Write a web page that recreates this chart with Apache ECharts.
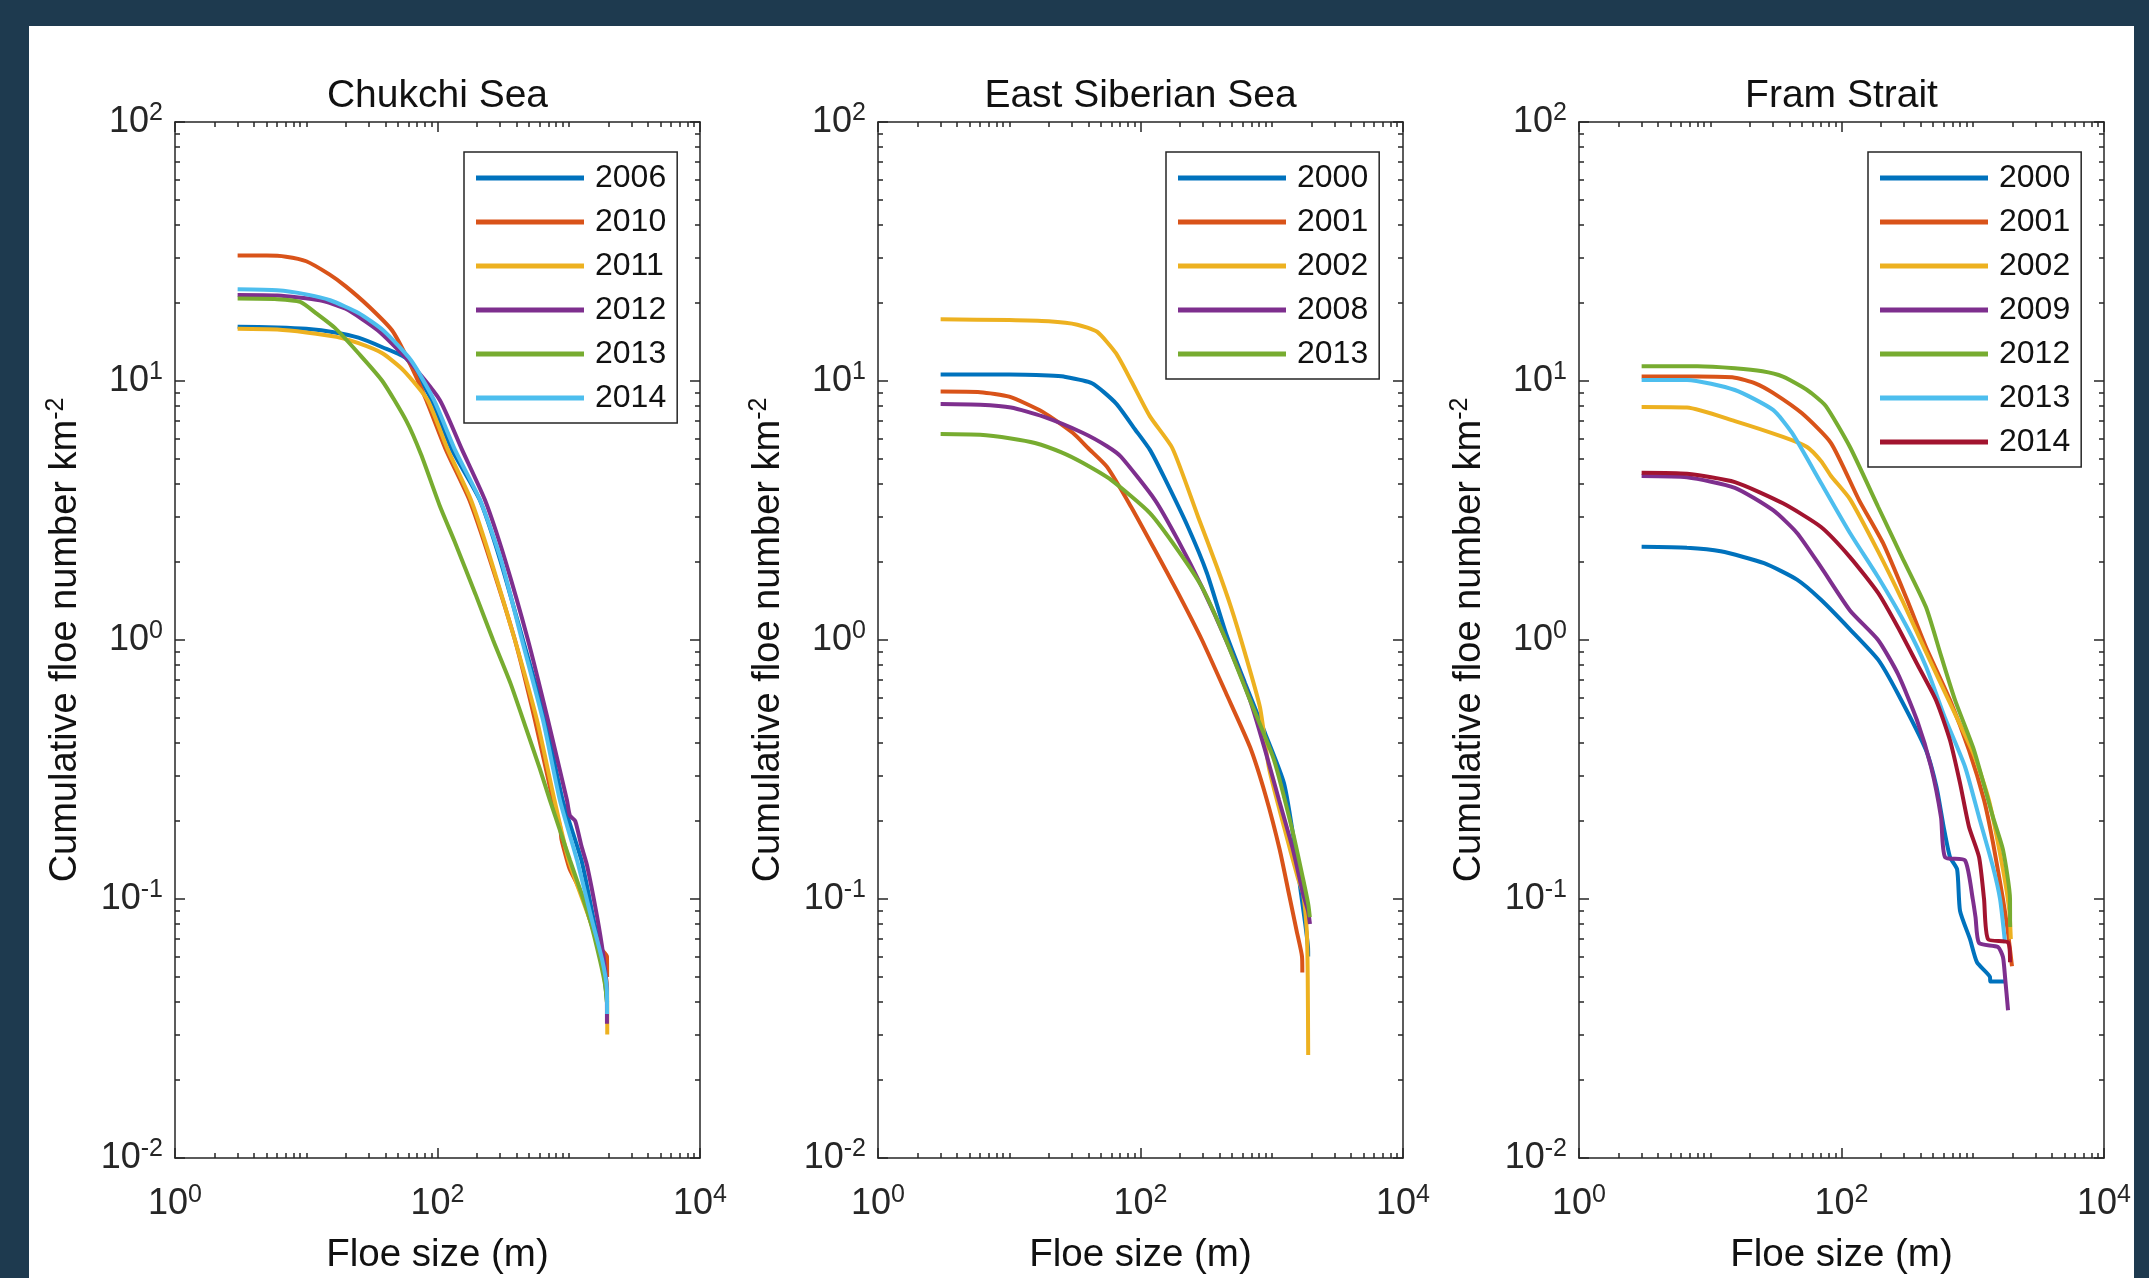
<!DOCTYPE html>
<html>
<head>
<meta charset="utf-8">
<script src="https://cdn.jsdelivr.net/npm/echarts@6/dist/echarts.min.js"></script>
<style>
html,body{margin:0;padding:0;background:#1e3a4f;}
#c{width:2149px;height:1278px;}
</style>
</head>
<body>
<div id="c"></div>
<script>
// ---------------- DATA (floe size in m, cumulative floe number km^-2) ----------------
const panelTitles = ['Chukchi Sea', 'East Siberian Sea', 'Fram Strait'];
const chukchiYears = ['2006', '2010', '2011', '2012', '2013', '2014'];
const essYears = ['2000', '2001', '2002', '2008', '2013'];
const framYears = ['2000', '2001', '2002', '2009', '2012', '2013', '2014'];

const chukchi2006 = [[3,16.2],[6,16.1],[10,15.9],[16.6,15.4],[25,14.7],[38,13.5],[58,12.2],[90,8.45],[129,5.42],[210,3.47],[300,2.04],[448,1.0],[665,0.49],[900,0.24],[1250,0.141],[1550,0.083],[1800,0.058],[1960,0.04]];
const chukchi2010 = [[3,30.5],[5,30.5],[7,30.2],[10,29.0],[15,25.8],[20,23.2],[30,19.4],[45,15.7],[60,12.0],[82,8.45],[116,5.42],[175,3.47],[251,2.04],[389,1.0],[553,0.49],[758,0.24],[860,0.19],[880,0.17],[970,0.141],[1020,0.13],[1150,0.115],[1300,0.1],[1450,0.083],[1730,0.065],[1955,0.06],[1960,0.05]];
const chukchi2011 = [[3,15.9],[6,15.8],[10,15.4],[17,14.8],[25,14.0],[38,12.8],[55,11.0],[84,8.45],[120,5.42],[180,3.47],[255,2.04],[389,1.0],[573,0.49],[780,0.24],[1000,0.141],[1450,0.083],[1800,0.06],[1960,0.045],[1965,0.03]];
const chukchi2012 = [[3,21.5],[6,21.4],[12.7,20.5],[20,19.0],[35,15.7],[60,12.0],[104,8.45],[154,5.42],[230,3.47],[327,2.04],[489,1.0],[695,0.49],[970,0.24],[1020,0.21],[1120,0.2],[1250,0.16],[1377,0.135],[1640,0.086],[1830,0.061],[1950,0.045],[1955,0.033]];
const chukchi2013 = [[3,20.8],[6,20.7],[9,20.2],[12,18.2],[16.6,16.0],[25,12.8],[38,10.0],[58,7.0],[75,5.2],[104,3.3],[135,2.4],[195,1.5],[265,1.0],[360,0.68],[470,0.46],[600,0.32],[720,0.24],[870,0.18],[1023,0.141],[1250,0.105],[1450,0.083],[1730,0.058],[1900,0.046],[1950,0.04]];
const chukchi2014 = [[3,22.6],[6,22.4],[10,21.6],[15.2,20.5],[25,18.3],[38.5,15.7],[63,12.0],[94,8.45],[136,5.42],[211,3.47],[305,2.04],[440,1.0],[637,0.49],[857,0.24],[1157,0.141],[1500,0.083],[1800,0.058],[1950,0.045],[1960,0.036]];

const ess2000 = [[3,10.6],[10,10.6],[20,10.5],[26,10.4],[42.7,9.8],[65,8.2],[91,6.5],[118,5.42],[151,4.26],[230,2.73],[321,1.81],[448,1.06],[625,0.683],[889,0.437],[1240,0.28],[1500,0.16],[1650,0.11],[1800,0.08],[1890,0.065],[1895,0.06]];
const ess2001 = [[3,9.1],[6,9.05],[10,8.7],[18,7.6],[30.6,6.3],[40,5.5],[55.6,4.66],[84.7,3.27],[129,2.22],[193,1.52],[294,1.0],[448,0.624],[683,0.386],[900,0.25],[1150,0.155],[1350,0.105],[1550,0.075],[1700,0.06],[1710,0.052]];
const ess2002 = [[3,17.3],[10,17.2],[20,17.0],[33,16.5],[46.6,15.5],[65,12.8],[85,10.0],[118,7.3],[175,5.5],[274,3.0],[383,1.91],[489,1.34],[625,0.89],[813,0.55],[953,0.32],[1240,0.19],[1585,0.12],[1730,0.105],[1850,0.075],[1880,0.05],[1895,0.025]];
const ess2008 = [[3,8.15],[6,8.1],[10.3,7.9],[18,7.3],[36.5,6.3],[55.6,5.6],[71,5.1],[129,3.47],[193,2.43],[294,1.6],[448,1.0],[683,0.586],[889,0.376],[1136,0.241],[1452,0.155],[1730,0.105],[1890,0.09],[1955,0.08]];
const ess2013 = [[3,6.24],[6,6.2],[10.3,6.0],[15.7,5.76],[25,5.3],[36.5,4.82],[59.6,4.15],[118,3.09],[193,2.22],[294,1.6],[448,1.0],[683,0.586],[1041,0.344],[1452,0.18],[1730,0.12],[1900,0.095],[1950,0.085]];

const fram2000 = [[3,2.29],[6.65,2.27],[12,2.2],[25.7,1.98],[45.8,1.71],[69.8,1.43],[116,1.10],[190,0.84],[269,0.62],[440,0.376],[530,0.27],[600,0.19],[671,0.145],[760,0.13],[800,0.09],[953,0.07],[1077,0.057],[1353,0.05],[1360,0.048],[1762,0.048]];
const fram2001 = [[3,10.4],[8,10.4],[15.4,10.3],[22,9.8],[30.1,9.0],[50,7.5],[83.2,5.76],[136,3.47],[207,2.37],[316,1.43],[440,0.94],[671,0.586],[936,0.376],[1219,0.241],[1426,0.165],[1699,0.1],[1850,0.075],[1990,0.055]];
const fram2002 = [[3,7.94],[6.65,7.9],[15.4,7.0],[35.8,6.08],[54.6,5.56],[70,4.9],[83.2,4.3],[116,3.5],[190,2.2],[289,1.43],[440,0.9],[671,0.57],[1022,0.36],[1330,0.24],[1699,0.13],[1900,0.09],[1950,0.07]];
const fram2009 = [[3,4.3],[6.65,4.25],[15.4,3.87],[30.1,3.17],[45.8,2.59],[69.8,1.91],[116,1.30],[190,1.0],[269,0.74],[376,0.49],[481,0.324],[573,0.207],[615,0.145],[873,0.141],[1000,0.1],[1050,0.085],[1117,0.0676],[1557,0.0653],[1699,0.0597],[1762,0.05],[1857,0.0372]];
const fram2012 = [[3,11.4],[8,11.4],[15.4,11.2],[25,10.9],[35.8,10.4],[50,9.5],[58.6,9.0],[76,8.0],[116,5.56],[190,3.27],[289,2.09],[440,1.34],[573,0.87],[733,0.586],[1022,0.376],[1426,0.207],[1699,0.155],[1923,0.1],[1925,0.078]];
const fram2013 = [[3,10.1],[6.65,10.1],[15.4,9.23],[30.1,7.73],[42,6.3],[69.8,4.04],[116,2.59],[190,1.75],[316,1.12],[440,0.79],[615,0.5],[873,0.324],[1117,0.207],[1426,0.133],[1614,0.1],[1762,0.0676]];
const fram2014 = [[3,4.42],[6.65,4.38],[15.4,4.07],[35.8,3.37],[69.8,2.73],[116,2.09],[190,1.52],[269,1.12],[376,0.81],[525,0.586],[671,0.41],[800,0.28],[936,0.19],[1117,0.145],[1219,0.1],[1307,0.07],[1857,0.068],[1923,0.057]];

// tick labels (powers of ten that carry a label)
const xLabelExps = [0, 2, 4];
const yLabelExps = [-2, -1, 0, 1, 2];
const minorMultipliers = [2, 3, 4, 5, 6, 7, 8, 9];

// ---------------- STYLE ----------------
const BLUE = '#0072BD', ORANGE = '#D95319', YELLOW = '#EDB120', PURPLE = '#7E2F8E',
      GREEN = '#77AC30', LIGHTBLUE = '#4DBEEE', DARKRED = '#A2142F';
const AX = '#262626';
const FONT = '"Liberation Sans", Arial, Helvetica, sans-serif';

const panels = [
  { prefix: 'C_', years: chukchiYears, data: [chukchi2006, chukchi2010, chukchi2011, chukchi2012, chukchi2013, chukchi2014],
    colors: [BLUE, ORANGE, YELLOW, PURPLE, GREEN, LIGHTBLUE] },
  { prefix: 'E_', years: essYears, data: [ess2000, ess2001, ess2002, ess2008, ess2013],
    colors: [BLUE, ORANGE, YELLOW, PURPLE, GREEN] },
  { prefix: 'F_', years: framYears, data: [fram2000, fram2001, fram2002, fram2009, fram2012, fram2013, fram2014],
    colors: [BLUE, ORANGE, YELLOW, PURPLE, GREEN, LIGHTBLUE, DARKRED] }
];

// layout
const gridLefts = [175, 878, 1579];
const GRID_TOP = 122, GRID_W = 525, GRID_H = 1036;
const legendLefts = [464, 1166, 1868];

// tick positions in log10 space (decoration only)
const xMajorTicks = xLabelExps.slice();
const xMinorTicks = [];
for (let d = 0; d < 4; d++) {
  minorMultipliers.forEach(m => xMinorTicks.push(d + Math.log10(m)));
  if (d === 1 || d === 3) xMinorTicks.push(d);
}
const yMajorTicks = yLabelExps.slice();
const yMinorTicks = [];
for (let d = -2; d < 2; d++) minorMultipliers.forEach(m => yMinorTicks.push(d + Math.log10(m)));

const RICH = {
  b: { fontSize: 36, lineHeight: 42, verticalAlign: 'middle', color: AX, fontFamily: FONT },
  s: { fontSize: 25, lineHeight: 24, verticalAlign: 'top', color: AX, fontFamily: FONT }
};

function tickAxis(dim, g, pos, values, len, showLine) {
  return {
    type: 'value', gridIndex: g, position: pos,
    min: dim === 'x' ? 0 : -2, max: dim === 'x' ? 4 : 2,
    axisLine: { show: showLine, onZero: false, lineStyle: { color: AX, width: 1.5 } },
    axisTick: { show: true, inside: true, length: len, customValues: values, lineStyle: { color: AX, width: 1.5 } },
    axisLabel: { show: false }, splitLine: { show: false }, minorTick: { show: false },
    axisPointer: { show: false }, silent: true
  };
}

const grids = [], xAxes = [], yAxes = [], series = [], legends = [], titles = [];
panels.forEach((p, g) => {
  grids.push({ left: gridLefts[g], top: GRID_TOP, width: GRID_W, height: GRID_H, containLabel: false, outerBoundsMode: 'none' });
  titles.push({
    text: panelTitles[g], left: gridLefts[g] + GRID_W / 2, top: 96, textAlign: 'center', textVerticalAlign: 'middle',
    padding: 0, textStyle: { fontSize: 39, fontWeight: 'normal', color: '#111', fontFamily: FONT }
  });
  xAxes.push({
    type: 'log', logBase: 10, gridIndex: g, position: 'bottom', min: 1, max: 10000,
    axisLine: { show: true, onZero: false, lineStyle: { color: AX, width: 1.5 } },
    axisTick: { show: false }, minorTick: { show: false }, splitLine: { show: false }, minorSplitLine: { show: false },
    axisLabel: {
      show: true, interval: 0, margin: 25, color: AX, fontFamily: FONT, showMinLabel: true, showMaxLabel: true,
      formatter: v => { const e = Math.round(Math.log10(v)); return xLabelExps.includes(e) ? '{b|10}{s|' + e + '}' : ''; },
      rich: RICH
    },
    name: 'Floe size (m)', nameLocation: 'middle', nameGap: 76,
    nameTextStyle: { fontSize: 38.5, color: '#111', lineHeight: 42, fontFamily: FONT }
  });
  xAxes.push(tickAxis('x', g, 'bottom', xMajorTicks, 10, false));
  xAxes.push(tickAxis('x', g, 'bottom', xMinorTicks, 5, false));
  xAxes.push(tickAxis('x', g, 'top', xMajorTicks, 10, true));
  xAxes.push(tickAxis('x', g, 'top', xMinorTicks, 5, false));

  yAxes.push({
    type: 'log', logBase: 10, gridIndex: g, position: 'left', min: 0.01, max: 100,
    axisLine: { show: true, onZero: false, lineStyle: { color: AX, width: 1.5 } },
    axisTick: { show: false }, minorTick: { show: false }, splitLine: { show: false }, minorSplitLine: { show: false },
    axisLabel: {
      show: true, interval: 0, margin: 12, color: AX, fontFamily: FONT, showMinLabel: true, showMaxLabel: true,
      formatter: v => { const e = Math.round(Math.log10(v)); return yLabelExps.includes(e) ? '{b|10}{s|' + e + '}' : ''; },
      rich: RICH
    },
    name: 'Cumulative floe number km{s|-2}', nameLocation: 'middle', nameGap: 87,
    nameTextStyle: {
      fontSize: 38, color: '#111', lineHeight: 44, fontFamily: FONT,
      rich: { s: { fontSize: 25, lineHeight: 24, verticalAlign: 'top', color: '#111', fontFamily: FONT } }
    }
  });
  yAxes.push(tickAxis('y', g, 'left', yMajorTicks, 10, false));
  yAxes.push(tickAxis('y', g, 'left', yMinorTicks, 5, false));
  yAxes.push(tickAxis('y', g, 'right', yMajorTicks, 10, true));
  yAxes.push(tickAxis('y', g, 'right', yMinorTicks, 5, false));

  p.years.forEach((yr, i) => {
    series.push({
      type: 'line', name: p.prefix + yr, xAxisIndex: g * 5, yAxisIndex: g * 5,
      data: p.data[i], showSymbol: false, symbol: 'none', clip: true,
      smooth: 0.2,
      color: p.colors[i], lineStyle: { width: 4, color: p.colors[i] }, itemStyle: { color: p.colors[i] },
      z: 2 + i / 10, silent: true
    });
  });

  legends.push({
    data: p.years.map(yr => p.prefix + yr),
    formatter: name => name.slice(2),
    orient: 'vertical', left: legendLefts[g], top: 152,
    padding: [8, 11, 7, 12], itemGap: 8, itemWidth: 108, itemHeight: 5, icon: 'rect',
    borderColor: AX, borderWidth: 1.5, borderRadius: 0, backgroundColor: '#ffffff',
    textStyle: { fontSize: 32, color: '#111', lineHeight: 36, padding: [0, 0, 0, 6], fontFamily: FONT },
    selectedMode: false, z: 10
  });
});

const chart = echarts.init(document.getElementById('c'), null, { width: 2149, height: 1278, renderer: 'canvas' });
chart.setOption({
  animation: false,
  backgroundColor: '#1e3a4f',
  textStyle: { fontFamily: FONT },
  graphic: [
    { type: 'rect', shape: { x: 29, y: 26, width: 2105, height: 1252 }, style: { fill: '#ffffff' }, z: -1, silent: true },
    { type: 'rect', shape: { x: 2134, y: 0, width: 15, height: 1278 }, style: { fill: '#1e3a4f' }, z: 100, silent: true }
  ],
  title: titles,
  legend: legends,
  grid: grids,
  xAxis: xAxes,
  yAxis: yAxes,
  series: series
});
</script>
</body>
</html>
